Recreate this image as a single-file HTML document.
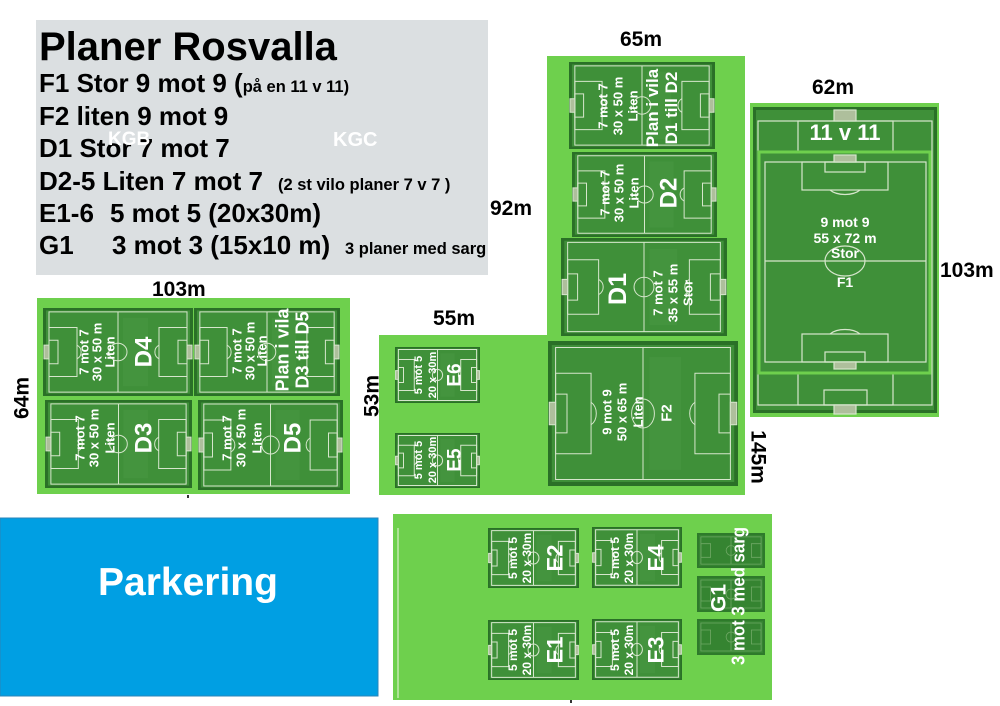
<!DOCTYPE html>
<html><head><meta charset="utf-8">
<style>
html,body{margin:0;padding:0;background:#fff;}
svg{display:block;}
text{font-family:"Liberation Sans",Arial,sans-serif;font-weight:bold;}
.w{fill:#fff;}
.k{fill:#000;}
</style></head><body>
<svg width="1000" height="706" viewBox="0 0 1000 706" xmlns="http://www.w3.org/2000/svg">
<defs>
<symbol id="p" viewBox="0 0 150 90" preserveAspectRatio="none">
 <rect width="150" height="90" fill="#2a7027"/>
 <rect x="3" y="2.5" width="144" height="85" fill="#3f9039"/>
 <rect x="80" y="10" width="25" height="70" fill="#4b9a44" opacity=".45"/>
 <g fill="none" stroke="#d6e6cc" stroke-width="1">
  <rect x="6" y="4" width="138" height="82" vector-effect="non-scaling-stroke"/>
  <line x1="75" y1="4" x2="75" y2="86" vector-effect="non-scaling-stroke"/>
  <circle cx="75" cy="45" r="9" vector-effect="non-scaling-stroke"/>
  <rect x="6" y="20" width="28" height="50" vector-effect="non-scaling-stroke"/>
  <rect x="116" y="20" width="28" height="50" vector-effect="non-scaling-stroke"/>
  <rect x="6" y="33" width="9" height="24" vector-effect="non-scaling-stroke"/>
  <rect x="135" y="33" width="9" height="24" vector-effect="non-scaling-stroke"/>
  <path d="M34 38 A8 8 0 0 1 34 52" vector-effect="non-scaling-stroke"/>
  <path d="M116 38 A8 8 0 0 0 116 52" vector-effect="non-scaling-stroke"/>
  <rect x="1" y="38" width="5" height="14" fill="#aebf9c" vector-effect="non-scaling-stroke"/>
  <rect x="144" y="38" width="5" height="14" fill="#aebf9c" vector-effect="non-scaling-stroke"/>
 </g>
</symbol>
<symbol id="g" viewBox="0 0 70 36" preserveAspectRatio="none">
 <rect width="70" height="36" fill="#2e7a2b"/>
 <rect x="2" y="2" width="66" height="32" fill="#358431"/>
 <g fill="none" stroke="#6fa865" stroke-width="0.8">
  <rect x="4" y="4" width="62" height="28" vector-effect="non-scaling-stroke"/>
  <line x1="35" y1="4" x2="35" y2="32" vector-effect="non-scaling-stroke"/>
  <circle cx="35" cy="18" r="5" vector-effect="non-scaling-stroke"/>
  <rect x="4" y="11" width="10" height="14" vector-effect="non-scaling-stroke"/>
  <rect x="56" y="11" width="10" height="14" vector-effect="non-scaling-stroke"/>
 </g>
</symbol>
</defs>

<!-- legend box -->
<rect x="36" y="20" width="452" height="255" fill="#dbdfe1"/>
<text x="39" y="60" font-size="40" class="k">Planer Rosvalla</text>
<text x="39" y="92" font-size="26" class="k">F1 Stor 9 mot 9 (<tspan font-size="16.5">på en 11 v 11)</tspan></text>
<text x="39" y="125" font-size="26" class="k">F2 liten 9 mot 9</text>
<text x="39" y="157" font-size="26" class="k">D1 Stor 7 mot 7</text>
<text x="108" y="145" font-size="19" class="w" font-weight="normal">KGB</text>
<text x="333" y="146" font-size="20" class="w">KGC</text>
<text x="39" y="190" font-size="26" class="k">D2-5 Liten 7 mot 7 <tspan x="278" font-size="16.5">(2 st vilo planer 7 v 7 )</tspan></text>
<text x="39" y="222" font-size="26" class="k">E1-6 <tspan x="110">5 mot 5 (20x30m)</tspan></text>
<text x="39" y="254" font-size="26" class="k">G1 <tspan x="112">3 mot 3 (15x10 m)</tspan> <tspan x="345" font-size="16.5">3 planer med sarg</tspan></text>

<!-- green areas -->
<rect x="547" y="56" width="198" height="285" fill="#6ed04d"/>
<rect x="379" y="335" width="366" height="160" fill="#6ed04d"/>
<rect x="750" y="103" width="189" height="314" fill="#6ed04d"/>
<rect x="37" y="298" width="313" height="196" fill="#6ed04d"/>
<rect x="393" y="514" width="379" height="186" fill="#6ed04d"/>
<line x1="398" y1="528" x2="398" y2="698" stroke="#d8f0c8" stroke-width="1.2"/>

<!-- parkering -->
<rect x="0" y="518" width="378" height="178" fill="#009fe3" stroke="#2a86b8" stroke-width="1"/>
<text x="188" y="595" font-size="39" class="w" text-anchor="middle">Parkering</text>

<!-- middle column fields -->
<use href="#p" x="569" y="62" width="146" height="87"/>
<use href="#p" x="572" y="152" width="145" height="85"/>
<use href="#p" x="561" y="238" width="166" height="98"/>
<use href="#p" x="548" y="341" width="190" height="145"/>

<!-- left fields -->
<use href="#p" x="43" y="308" width="150" height="88"/>
<use href="#p" x="194" y="308" width="146" height="88"/>
<use href="#p" x="45" y="400" width="147" height="88"/>
<use href="#p" x="198" y="400" width="145" height="90"/>

<!-- E fields -->
<use href="#p" x="395" y="347" width="85" height="56"/>
<use href="#p" x="395" y="433" width="85" height="55"/>
<use href="#p" x="488" y="528" width="91" height="60"/>
<use href="#p" x="592" y="527" width="90" height="61"/>
<use href="#p" x="488" y="620" width="91" height="60"/>
<use href="#p" x="592" y="619" width="90" height="61"/>

<!-- G fields -->
<use href="#g" x="697" y="533" width="68" height="35"/>
<use href="#g" x="697" y="576" width="68" height="36"/>
<use href="#g" x="697" y="619" width="68" height="36"/>

<!-- 11 v 11 field -->
<rect x="753" y="107" width="184" height="306" fill="#2a7027"/>
<rect x="756" y="110" width="178" height="300" fill="#3f9039"/>
<g fill="none" stroke="#d6e6cc" stroke-width="1.2">
 <rect x="758" y="121" width="174" height="284"/>
 <rect x="798" y="121" width="95" height="40"/>
 <rect x="798" y="365" width="95" height="40"/>
 <rect x="824" y="390" width="43" height="15"/>
 <rect x="834" y="110" width="22" height="11" fill="#aebf9c"/>
 <rect x="834" y="405" width="22" height="9" fill="#aebf9c"/>
</g>
<rect x="759" y="152" width="171" height="221" fill="#3f9039" stroke="#6ed04d" stroke-width="3"/>
<g fill="none" stroke="#d6e6cc" stroke-width="1.2">
 <rect x="765" y="162" width="161" height="200"/>
 <line x1="765" y1="261" x2="926" y2="261"/>
 <ellipse cx="845" cy="261" rx="20" ry="15"/>
 <rect x="802" y="162" width="86" height="28"/>
 <rect x="825" y="162" width="40" height="10"/>
 <path d="M830 190 A18 10 0 0 0 860 190"/>
 <rect x="802" y="334" width="86" height="28"/>
 <rect x="825" y="352" width="40" height="10"/>
 <path d="M830 334 A18 10 0 0 1 860 334"/>
 <rect x="834" y="155" width="22" height="7" fill="#aebf9c"/>
 <rect x="834" y="362" width="22" height="7" fill="#aebf9c"/>
</g>
<text x="845" y="140" font-size="22" class="w" text-anchor="middle">11 v 11</text>
<text x="845" y="227" font-size="14" class="w" text-anchor="middle">9 mot 9</text>
<text x="845" y="243" font-size="14" class="w" text-anchor="middle">55 x 72 m</text>
<text x="845" y="258" font-size="14" class="w" text-anchor="middle">Stor</text>
<text x="845" y="287" font-size="14" class="w" text-anchor="middle">F1</text>

<!-- rotated field labels -->
<g class="w" text-anchor="middle">
 <text transform="translate(603 106) rotate(-90)" dy="0.35em" font-size="13">7 mot 7</text>
 <text transform="translate(618 106) rotate(-90)" dy="0.35em" font-size="13">30 x 50 m</text>
 <text transform="translate(633 106) rotate(-90)" dy="0.35em" font-size="13">Liten</text>
 <text transform="translate(652 108) rotate(-90)" dy="0.35em" font-size="17">Plan i vila</text>
 <text transform="translate(671 108) rotate(-90)" dy="0.35em" font-size="17">D1 till D2</text>
 <text transform="translate(605 193) rotate(-90)" dy="0.35em" font-size="13">7 mot 7</text>
 <text transform="translate(619 193) rotate(-90)" dy="0.35em" font-size="13">30 x 50 m</text>
 <text transform="translate(634 193) rotate(-90)" dy="0.35em" font-size="13">Liten</text>
 <text transform="translate(668 193) rotate(-90)" dy="0.35em" font-size="24">D2</text>
 <text transform="translate(617 289) rotate(-90)" dy="0.35em" font-size="25">D1</text>
 <text transform="translate(658 293) rotate(-90)" dy="0.35em" font-size="13">7 mot 7</text>
 <text transform="translate(673 293) rotate(-90)" dy="0.35em" font-size="13">35 x 55 m</text>
 <text transform="translate(688 293) rotate(-90)" dy="0.35em" font-size="13">Stor</text>
 <text transform="translate(607 412) rotate(-90)" dy="0.35em" font-size="13">9 mot 9</text>
 <text transform="translate(622 412) rotate(-90)" dy="0.35em" font-size="13">50 x 65 m</text>
 <text transform="translate(638 412) rotate(-90)" dy="0.35em" font-size="13">Liten</text>
 <text transform="translate(666 413) rotate(-90)" dy="0.35em" font-size="15">F2</text>
 <text transform="translate(418 375) rotate(-90)" dy="0.35em" font-size="11">5 mot 5</text>
 <text transform="translate(432 375) rotate(-90)" dy="0.35em" font-size="11">20 x 30m</text>
 <text transform="translate(454 375) rotate(-90)" dy="0.35em" font-size="19">E6</text>
 <text transform="translate(418 460) rotate(-90)" dy="0.35em" font-size="11">5 mot 5</text>
 <text transform="translate(432 460) rotate(-90)" dy="0.35em" font-size="11">20 x 30m</text>
 <text transform="translate(454 460) rotate(-90)" dy="0.35em" font-size="19">E5</text>
 <text transform="translate(513 558) rotate(-90)" dy="0.35em" font-size="12">5 mot 5</text>
 <text transform="translate(527 558) rotate(-90)" dy="0.35em" font-size="12">20 x 30m</text>
 <text transform="translate(555 558) rotate(-90)" dy="0.35em" font-size="22">E2</text>
 <text transform="translate(615 558) rotate(-90)" dy="0.35em" font-size="12">5 mot 5</text>
 <text transform="translate(629 558) rotate(-90)" dy="0.35em" font-size="12">20 x 30m</text>
 <text transform="translate(656 558) rotate(-90)" dy="0.35em" font-size="22">E4</text>
 <text transform="translate(513 650) rotate(-90)" dy="0.35em" font-size="12">5 mot 5</text>
 <text transform="translate(527 650) rotate(-90)" dy="0.35em" font-size="12">20 x 30m</text>
 <text transform="translate(555 650) rotate(-90)" dy="0.35em" font-size="22">E1</text>
 <text transform="translate(615 650) rotate(-90)" dy="0.35em" font-size="12">5 mot 5</text>
 <text transform="translate(629 650) rotate(-90)" dy="0.35em" font-size="12">20 x 30m</text>
 <text transform="translate(656 650) rotate(-90)" dy="0.35em" font-size="22">E3</text>
 <text transform="translate(718 598) rotate(-90)" dy="0.35em" font-size="21">G1</text>
 <text transform="translate(738 596) rotate(-90)" dy="0.35em" font-size="18" textLength="138" lengthAdjust="spacingAndGlyphs">3 mot 3 med sarg</text>
 <text transform="translate(84 352) rotate(-90)" dy="0.35em" font-size="13">7 mot 7</text>
 <text transform="translate(97 352) rotate(-90)" dy="0.35em" font-size="13">30 x 50 m</text>
 <text transform="translate(110 352) rotate(-90)" dy="0.35em" font-size="13">Liten</text>
 <text transform="translate(143 352) rotate(-90)" dy="0.35em" font-size="24">D4</text>
 <text transform="translate(237 351) rotate(-90)" dy="0.35em" font-size="13">7 mot 7</text>
 <text transform="translate(250 351) rotate(-90)" dy="0.35em" font-size="13">30 x 50 m</text>
 <text transform="translate(262 351) rotate(-90)" dy="0.35em" font-size="13">Liten</text>
 <text transform="translate(282 350) rotate(-90)" dy="0.35em" font-size="18">Plan i vila</text>
 <text transform="translate(302 350) rotate(-90)" dy="0.35em" font-size="18">D3 till D5</text>
 <text transform="translate(80 438) rotate(-90)" dy="0.35em" font-size="13">7 mot 7</text>
 <text transform="translate(94 438) rotate(-90)" dy="0.35em" font-size="13">30 x 50 m</text>
 <text transform="translate(110 438) rotate(-90)" dy="0.35em" font-size="13">Liten</text>
 <text transform="translate(143 438) rotate(-90)" dy="0.35em" font-size="24">D3</text>
 <text transform="translate(227 438) rotate(-90)" dy="0.35em" font-size="13">7 mot 7</text>
 <text transform="translate(241 438) rotate(-90)" dy="0.35em" font-size="13">30 x 50 m</text>
 <text transform="translate(257 438) rotate(-90)" dy="0.35em" font-size="13">Liten</text>
 <text transform="translate(292 438) rotate(-90)" dy="0.35em" font-size="24">D5</text>
</g>

<!-- dimension labels -->
<g class="k" font-size="21">
 <text x="620" y="46">65m</text>
 <text x="812" y="94">62m</text>
 <text x="940" y="277">103m</text>
 <text x="490" y="215">92m</text>
 <text x="152" y="296">103m</text>
 <text x="433" y="325">55m</text>
 <text transform="translate(21 398) rotate(-90)" dy="0.35em" text-anchor="middle">64m</text>
 <text transform="translate(371 396) rotate(-90)" dy="0.35em" text-anchor="middle">53m</text>
 <text transform="translate(759 457) rotate(90)" dy="0.35em" text-anchor="middle">145m</text>
</g>
<rect x="187" y="495" width="2" height="3" fill="#333"/>
<rect x="570" y="700" width="2" height="3" fill="#333"/>
</svg>
</body></html>
